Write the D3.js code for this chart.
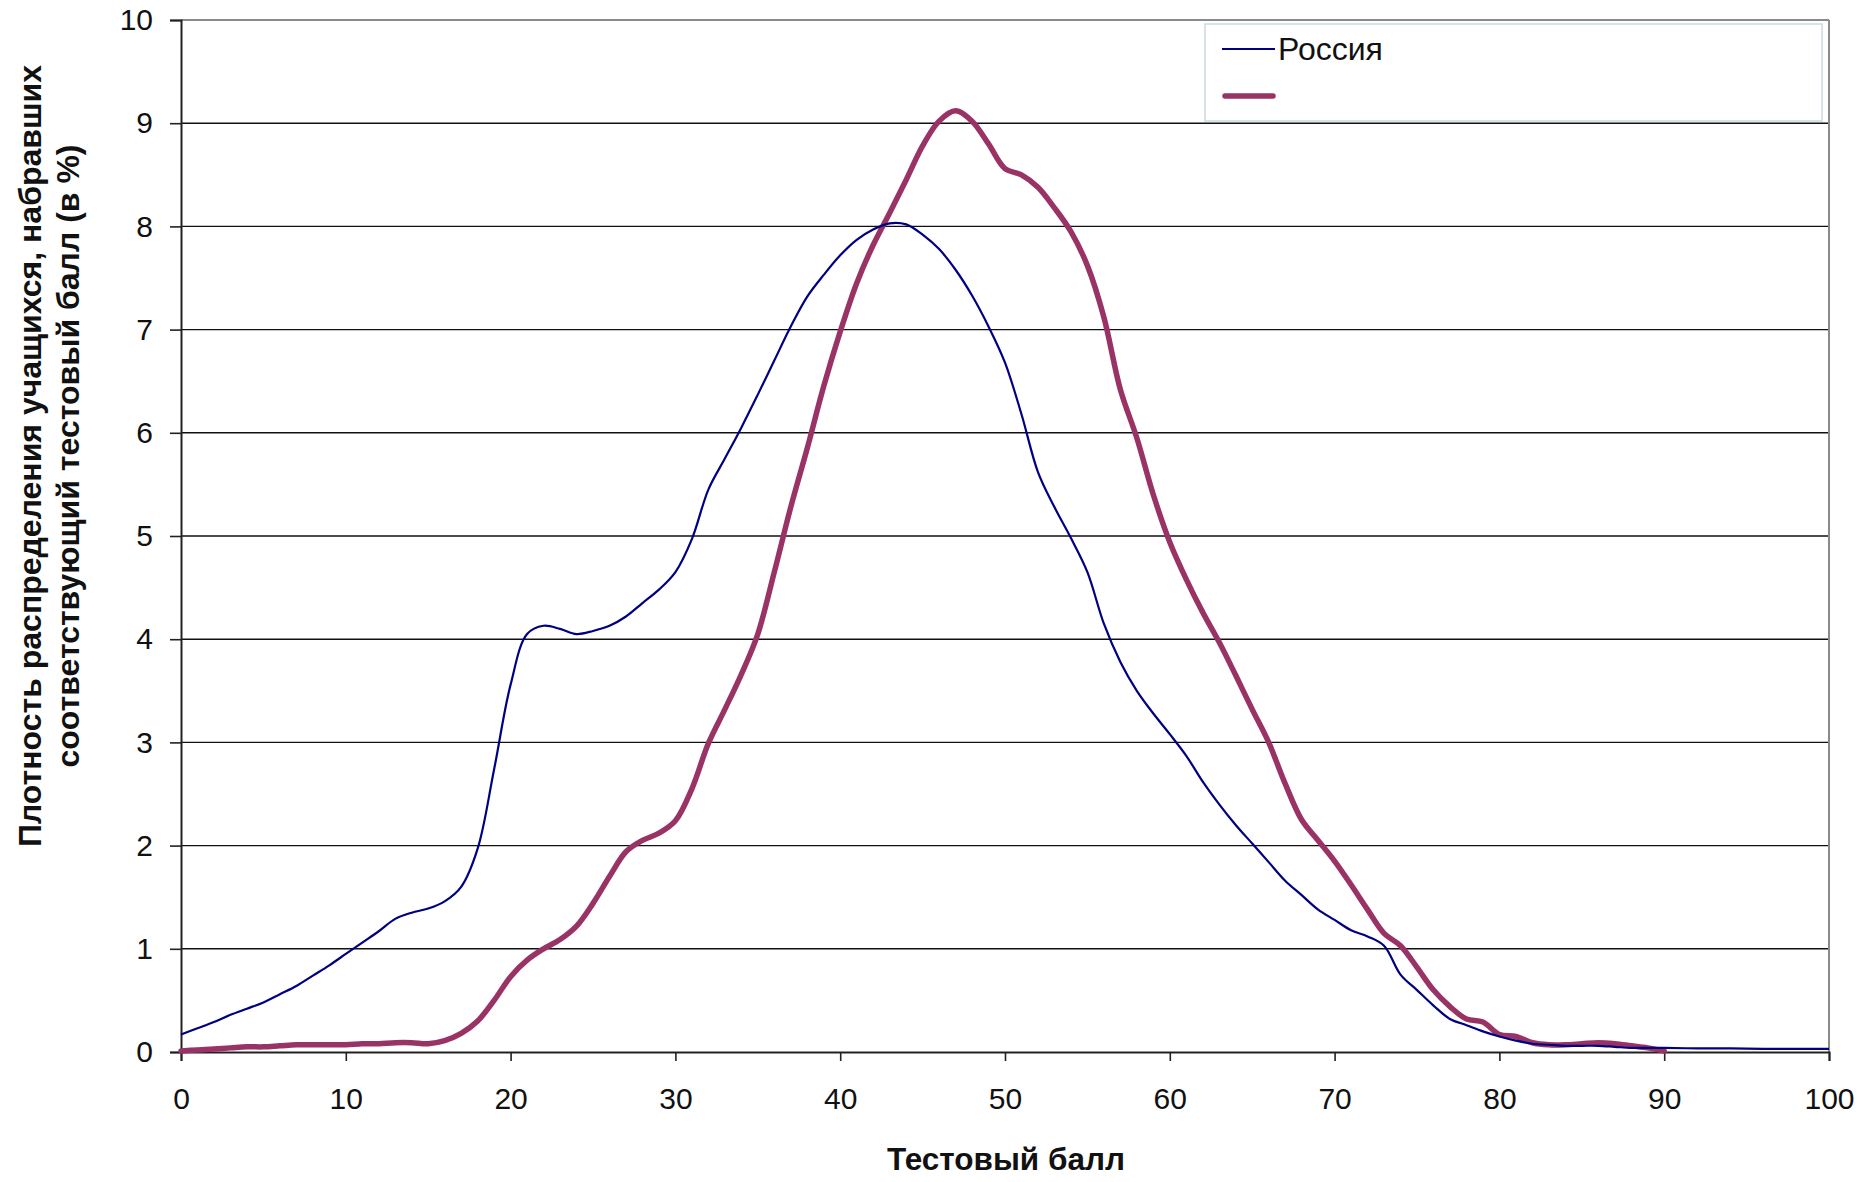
<!DOCTYPE html>
<html><head><meta charset="utf-8">
<script src="https://cdn.jsdelivr.net/npm/d3@7"></script>
<style>body{margin:0;background:#fff}svg{display:block}text{font-family:"Liberation Sans",Arial,sans-serif}</style>
</head><body>
<svg id="c" width="1865" height="1182"></svg>
<script>
const xTicks = [0,10,20,30,40,50,60,70,80,90,100];
const yTicks = [0,1,2,3,4,5,6,7,8,9,10];
const seriesNames = ["Россия", ""];
const russiaX = [0,1,2,3,4,5,6,7,8,9,10,11,12,13,14,15,16,17,18,19,20,21,22,23,24,25,26,27,28,29,30,31,32,33,34,35,36,37,38,39,40,41,42,43,44,45,46,47,48,49,50,51,52,53,54,55,56,57,58,59,60,61,62,63,64,65,66,67,68,69,70,71,72,73,74,75,76,77,78,79,80,81,82,83,84,85,86,87,88,89,90,92,94,96,98,100];
const russiaY = [0.17,0.23,0.29,0.36,0.42,0.48,0.56,0.64,0.74,0.84,0.95,1.06,1.17,1.29,1.35,1.39,1.46,1.6,1.97,2.74,3.56,4.05,4.13,4.10,4.05,4.08,4.13,4.22,4.35,4.48,4.65,4.97,5.45,5.75,6.05,6.37,6.7,7.03,7.32,7.53,7.72,7.87,7.97,8.03,8.02,7.92,7.78,7.58,7.33,7.03,6.68,6.18,5.62,5.28,4.98,4.65,4.15,3.78,3.5,3.28,3.08,2.87,2.62,2.4,2.2,2.02,1.84,1.66,1.52,1.38,1.28,1.18,1.12,1.03,0.75,0.6,0.45,0.32,0.26,0.2,0.15,0.11,0.08,0.07,0.06,0.06,0.06,0.05,0.04,0.04,0.04,0.035,0.035,0.03,0.03,0.03];
const regionX = [0,1,2,3,4,5,6,7,8,9,10,11,12,13,14,15,16,17,18,19,20,21,22,23,24,25,26,27,28,29,30,31,32,33,34,35,36,37,38,39,40,41,42,43,44,45,46,47,48,49,50,51,52,53,54,55,56,57,58,59,60,61,62,63,64,65,66,67,68,69,70,71,72,73,74,75,76,77,78,79,80,81,82,83,84,85,86,87,88,89,90];
const regionY = [0.01,0.02,0.03,0.04,0.05,0.05,0.06,0.07,0.07,0.07,0.07,0.08,0.08,0.09,0.09,0.08,0.11,0.18,0.3,0.5,0.73,0.89,1.0,1.09,1.22,1.44,1.7,1.94,2.05,2.12,2.24,2.55,2.99,3.32,3.66,4.05,4.65,5.28,5.85,6.45,6.98,7.45,7.82,8.13,8.45,8.78,9.02,9.12,9.02,8.8,8.56,8.5,8.38,8.18,7.95,7.62,7.12,6.42,5.95,5.4,4.94,4.58,4.26,3.97,3.65,3.32,3.0,2.6,2.25,2.05,1.85,1.62,1.38,1.15,1.03,0.82,0.6,0.44,0.32,0.29,0.17,0.15,0.09,0.07,0.07,0.08,0.09,0.08,0.06,0.04,0.01];
const xTitle = "Тестовый балл";
const yTitle = ["Плотность распределения учащихся, набравших", "соответствующий тестовый балл (в %)"];

const svg = d3.select("#c");
const L = 181, R = 1829, T = 20, B = 1052;
const x = d3.scaleLinear().domain([0,100]).range([L,R]);
const y = d3.scaleLinear().domain([0,10]).range([B,T]);

// gridlines
svg.append("g").selectAll("line").data(yTicks.filter(d=>d>0&&d<10)).join("line")
  .attr("x1",L).attr("x2",R).attr("y1",d=>y(d)).attr("y2",d=>y(d))
  .attr("stroke","#111").attr("stroke-width",1.4);
// plot border top/right
svg.append("line").attr("x1",L).attr("x2",R).attr("y1",T).attr("y2",T).attr("stroke","#8a8a8a").attr("stroke-width",2);
svg.append("line").attr("x1",R).attr("x2",R).attr("y1",T).attr("y2",B).attr("stroke","#8a8a8a").attr("stroke-width",2);

// axes
const yAxis = svg.append("g").attr("transform",`translate(${L},0)`)
  .call(d3.axisLeft(y).tickValues(yTicks).tickSize(11).tickPadding(17).tickFormat(d3.format("d")));
const xAxis = svg.append("g").attr("transform",`translate(0,${B})`)
  .call(d3.axisBottom(x).tickValues(xTicks).tickSize(9).tickPadding(27).tickFormat(d3.format("d")));
[yAxis,xAxis].forEach(a=>{
  a.select(".domain").attr("stroke","#222").attr("stroke-width",2);
  a.selectAll(".tick line").attr("stroke","#222").attr("stroke-width",1.6);
  a.selectAll("text").attr("font-size",30).attr("fill","#111").attr("font-family","Liberation Sans, Arial, sans-serif");
});

// lines
const line = d3.line().x(d=>x(d[0])).y(d=>y(d[1])).curve(d3.curveCatmullRom.alpha(0.5));
svg.append("path").datum(regionX.map((v,i)=>[v,regionY[i]]))
  .attr("d",line).attr("fill","none").attr("stroke","#993366").attr("stroke-width",5.5).attr("stroke-linejoin","round").attr("stroke-linecap","round");
svg.append("path").datum(russiaX.map((v,i)=>[v,russiaY[i]]))
  .attr("d",line).attr("fill","none").attr("stroke","#000080").attr("stroke-width",2.2);

// legend
const lg = svg.append("g");
lg.append("rect").attr("x",1205).attr("y",24).attr("width",617).attr("height",97)
  .attr("fill","#fff").attr("stroke","#c9dbe0").attr("stroke-width",1.5);
lg.append("line").attr("x1",1222).attr("x2",1275).attr("y1",49).attr("y2",49).attr("stroke","#000080").attr("stroke-width",2.2);
lg.append("text").attr("x",1278).attr("y",60).attr("font-size",32).attr("fill","#111").text(seriesNames[0]);
lg.append("line").attr("x1",1225).attr("x2",1273).attr("y1",96).attr("y2",96).attr("stroke","#993366").attr("stroke-width",5.5).attr("stroke-linecap","round");
lg.append("text").attr("x",1278).attr("y",107).attr("font-size",32).text(seriesNames[1]);

// titles
svg.append("text").attr("x",1006).attr("y",1170).attr("text-anchor","middle")
  .attr("font-size",31.5).attr("font-weight","bold").attr("fill","#111").text(xTitle);
const yt = svg.append("text").attr("transform","translate(0,456) rotate(-90)")
  .attr("text-anchor","middle").attr("font-size",32).attr("font-weight","bold").attr("fill","#111");
yt.append("tspan").attr("x",0).attr("y",41).text(yTitle[0]);
yt.append("tspan").attr("x",0).attr("y",79).text(yTitle[1]);
</script>
</body></html>
